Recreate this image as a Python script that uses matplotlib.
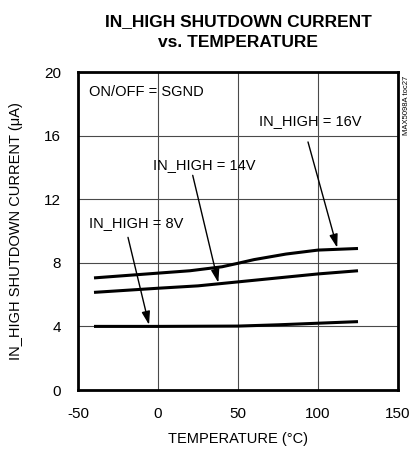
import matplotlib
matplotlib.use("Agg")
import matplotlib.pyplot as plt

plt.rcParams['font.family'] = ['Liberation Sans', 'DejaVu Sans']
plt.rcParams['axes.unicode_minus'] = False

temp_16 = [-40, -20, 0, 20, 40, 50, 60, 80, 100, 125]
cur_16 = [7.05, 7.2, 7.35, 7.5, 7.75, 7.97, 8.2, 8.55, 8.8, 8.9]
temp_14 = [-40, 0, 25, 50, 75, 100, 125]
cur_14 = [6.14, 6.4, 6.55, 6.8, 7.05, 7.3, 7.5]
temp_8 = [-40, 0, 50, 75, 100, 125]
cur_8 = [4.0, 4.0, 4.02, 4.1, 4.2, 4.3]

xticks = [-50, 0, 50, 100, 150]
yticks = [0, 4, 8, 12, 16, 20]

fig = plt.figure(figsize=(4.11, 4.49), dpi=100)
ax = fig.add_axes([78/411, 1-390/449, 320/411, 318/449])

for x, y in [(temp_16, cur_16), (temp_14, cur_14), (temp_8, cur_8)]:
    ax.plot(x, y, color='black', lw=2.2, solid_capstyle='butt', zorder=3)

ax.set_xlim(-50, 150)
ax.set_ylim(0, 20)
ax.set_xticks(xticks)
ax.set_yticks(yticks)
ax.tick_params(length=0, labelsize=11)
ax.tick_params(axis='y', pad=12)
ax.tick_params(axis='x', pad=12)
ax.grid(True, color='#4a4a4a', lw=0.8)
for s in ax.spines.values():
    s.set_linewidth(2)
    s.set_zorder(4)

ax.set_xlabel("TEMPERATURE (°C)", fontsize=10.5, labelpad=8)
ax.set_ylabel("IN_HIGH SHUTDOWN CURRENT (μA)", fontsize=10.5, labelpad=15)

fig.text(238/411, 1-32/449, "IN_HIGH SHUTDOWN CURRENT\nvs. TEMPERATURE", ha='center', va='center',
         fontsize=12.5, fontweight='bold', linespacing=1.55)
fig.text(406/411, 1-105/449, "MAX5098A toc27", rotation=90, ha='center', va='center', fontsize=5.5)

ax.text(-43, 18.75, "ON/OFF = SGND", fontsize=10.5, va='center', ha='left')
ax.text(63, 16.9, "IN_HIGH = 16V", fontsize=10.5, va='center', ha='left')
ax.text(-3.3, 14.15, "IN_HIGH = 14V", fontsize=10.5, va='center', ha='left')
ax.text(-43, 10.5, "IN_HIGH = 8V", fontsize=10.5, va='center', ha='left')

arrow = dict(arrowstyle='-|>,head_length=0.8,head_width=0.25', color='black', lw=1, shrinkA=0, shrinkB=0)
ax.annotate("", xy=(112, 8.95), xytext=(93.75, 15.6), arrowprops=arrow)
ax.annotate("", xy=(37.7, 6.75), xytext=(21.7, 13.5), arrowprops=arrow)
ax.annotate("", xy=(-5.6, 4.1), xytext=(-18.75, 9.6), arrowprops=arrow)

fig.savefig("out.png", dpi=100)
